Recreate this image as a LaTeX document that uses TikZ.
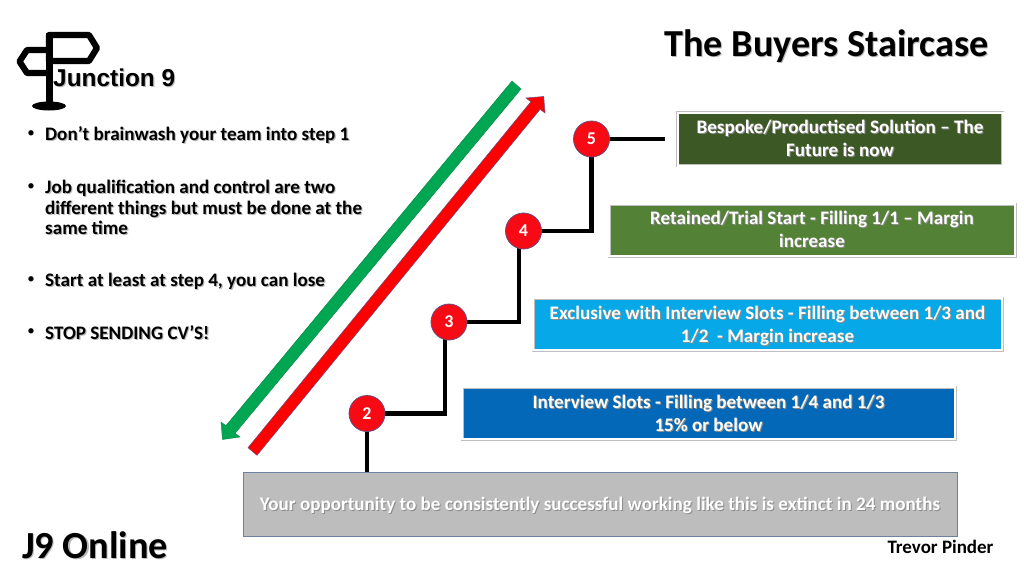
\documentclass[tikz,border=0pt]{standalone}
\usepackage{fontspec}
\setmainfont{Carlito}
\newfontfamily\arialfont{Liberation Sans}
\usetikzlibrary{shadows}
\definecolor{txtshadow}{HTML}{B8B8B8}
\definecolor{boxshadow}{HTML}{595959}
\definecolor{stepred}{HTML}{F70A14}
\definecolor{stepedge}{HTML}{6A4A7E}
\definecolor{stairgreen}{HTML}{00A651}
\definecolor{boxfive}{HTML}{3C5824}
\definecolor{boxfour}{HTML}{538135}
\definecolor{boxthree}{HTML}{06A8E8}
\definecolor{boxtwo}{HTML}{0468B8}
\definecolor{greybox}{HTML}{BDBDBD}
\definecolor{greyedge}{HTML}{6F7F9F}
\newcommand{\shd}[1]{\leavevmode\rlap{\hspace{1.1pt}\raisebox{-1.1pt}{\textcolor{txtshadow}{#1}}}#1}
\newcommand{\shw}[1]{\leavevmode\rlap{\hspace{1pt}\raisebox{-1pt}{\textcolor{black!45}{#1}}}#1}
\newcommand{\tstr}{\rule{0pt}{17.5pt}}
\newcommand{\tstrs}{\rule{0pt}{15.5pt}}
\tikzset{
  stepdot/.style={circle,fill=stepred,draw=stepedge,line width=0.8pt,minimum size=36pt,inner sep=0pt,text=white,font=\fontsize{18}{20}\selectfont\bfseries},
  riser/.style={line width=4.5pt,black},
  levelbox/.style={rectangle,draw=black!25,line width=0.5pt,double=white,double distance=2pt,text=white,align=center,inner sep=0pt,
    font=\fontsize{19.1}{23}\selectfont\bfseries,drop shadow={shadow xshift=0.6pt,shadow yshift=-0.8pt,fill=boxshadow,opacity=0.5}},
  bullettext/.style={anchor=west,align=left,inner sep=0pt,font=\fontsize{19.1}{20.7}\selectfont\bfseries},
  bulletmark/.style={anchor=center,inner sep=0pt,font=\fontsize{15}{20}\selectfont},
  signline/.style={line width=6.2pt,black,line join=round}
}
\begin{document}
\begin{tikzpicture}[x=1pt,y=-1pt]
\useasboundingbox (0,0) rectangle (1024,576);
% signpost
\draw[signline] (49,35) -- (89,35) -- (97,48) -- (89,61) -- (49,61) -- cycle;
\draw[signline] (48,50) -- (27,50) -- (19.5,61.5) -- (27,73) -- (48,73);
\draw[line width=7pt,black] (49,33) -- (49,106);
\fill[black] (49,106) ellipse [x radius=17,y radius=4.5];
\node[anchor=west,inner sep=0pt,font=\arialfont\fontsize{24.4}{26}\selectfont\bfseries] (logo) at (53,78) {\shd{Junction 9}};
% title
\node[inner sep=0pt,font=\fontsize{38.2}{42}\selectfont\bfseries] (title) at (826.5,47) {\shd{The Buyers Staircase}};
% bullets
\node[bulletmark] (b1) at (31,134) {•};
\node[bullettext] (t1) at (45,135.5) {\shd{Don’t brainwash your team into step 1}};
\node[bulletmark] (b2) at (31,187) {•};
\node[bullettext] (t2) at (45,208) {\shd{Job qualification and control are two}\\\shd{different things but must be done at the}\\\shd{same time}};
\node[bulletmark] (b3) at (31,280) {•};
\node[bullettext] (t3) at (45,281.5) {\shd{Start at least at step 4, you can lose}};
\node[bulletmark] (b4) at (31,332) {•};
\node[bullettext] (t4) at (45,333) {\shd{STOP SENDING CV’S!}};
% arrows
\filldraw[fill=stairgreen,draw=stairgreen!80!black,line width=0.4pt,line join=miter]
  (512,81) -- (521,89) -- (235.1,433.3) -- (240,437) -- (222.5,439.5) -- (221,422) -- (225.9,425.7) -- cycle;
\filldraw[fill=red,draw=stepedge,line width=0.5pt,line join=miter]
  (248,447.7) -- (257,455.3) -- (540.1,109.3) -- (545,113) -- (543.7,96.5) -- (526,98) -- (530.9,101.7) -- cycle;
% boxes
\node[rectangle,draw=greyedge,fill=greybox,line width=0.8pt,text=white,inner sep=0pt,font=\fontsize{19.1}{23}\selectfont\bfseries,minimum width=714pt,minimum height=64pt] (g) at (600,504) {\tstr\shw{Your opportunity to be consistently successful working like this is extinct in 24 months}};
\node[levelbox,fill=boxtwo,minimum width=493pt,minimum height=52pt] (l2) at (708.5,413) {\tstrs\shw{Interview Slots - Filling between 1/4 and 1/3}\\\shw{15\% or below}};
\node[levelbox,fill=boxthree,minimum width=469pt,minimum height=52pt] (l3) at (767.5,324) {\tstr\shw{Exclusive with Interview Slots - Filling between 1/3 and}\\\shw{1/2\ \ - Margin increase}};
\node[levelbox,fill=boxfour,minimum width=406pt,minimum height=52pt] (l4) at (812,230) {\shw{Retained/Trial Start - Filling 1/1 – Margin}\\\shw{increase}};
\node[levelbox,fill=boxfive,minimum width=325pt,minimum height=53pt] (l5) at (840,139) {\shw{Bespoke/Productised Solution – The}\\\shw{Future is now}};
% step dots
\coordinate (n5p) at (591.5,139);
\coordinate (n4p) at (523.5,231);
\coordinate (n3p) at (449,322);
\coordinate (n2p) at (367,413.5);
\coordinate (free5) at (665,139);
\draw[riser] (n5p) -- (free5);
\draw[riser] (n4p) -| (n5p);
\draw[riser] (n3p) -| ([xshift=-4.5pt]n4p);
\draw[riser] (n2p) -| ([xshift=-4pt]n3p);
\draw[riser] (n2p) -- (g.north -| n2p);
\node[stepdot] (n5) at (n5p) {5};
\node[stepdot] (n4) at (n4p) {4};
\node[stepdot] (n3) at (n3p) {3};
\node[stepdot] (n2) at (n2p) {2};
% footer
\node[anchor=west,inner sep=0pt,font=\fontsize{38.3}{42}\selectfont\bfseries] (j9) at (22,546) {\shd{J9 Online}};
\node[inner sep=0pt,font=\fontsize{19}{21}\selectfont\bfseries] (author) at (940.5,547) {Trevor Pinder};
\end{tikzpicture}
\end{document}
